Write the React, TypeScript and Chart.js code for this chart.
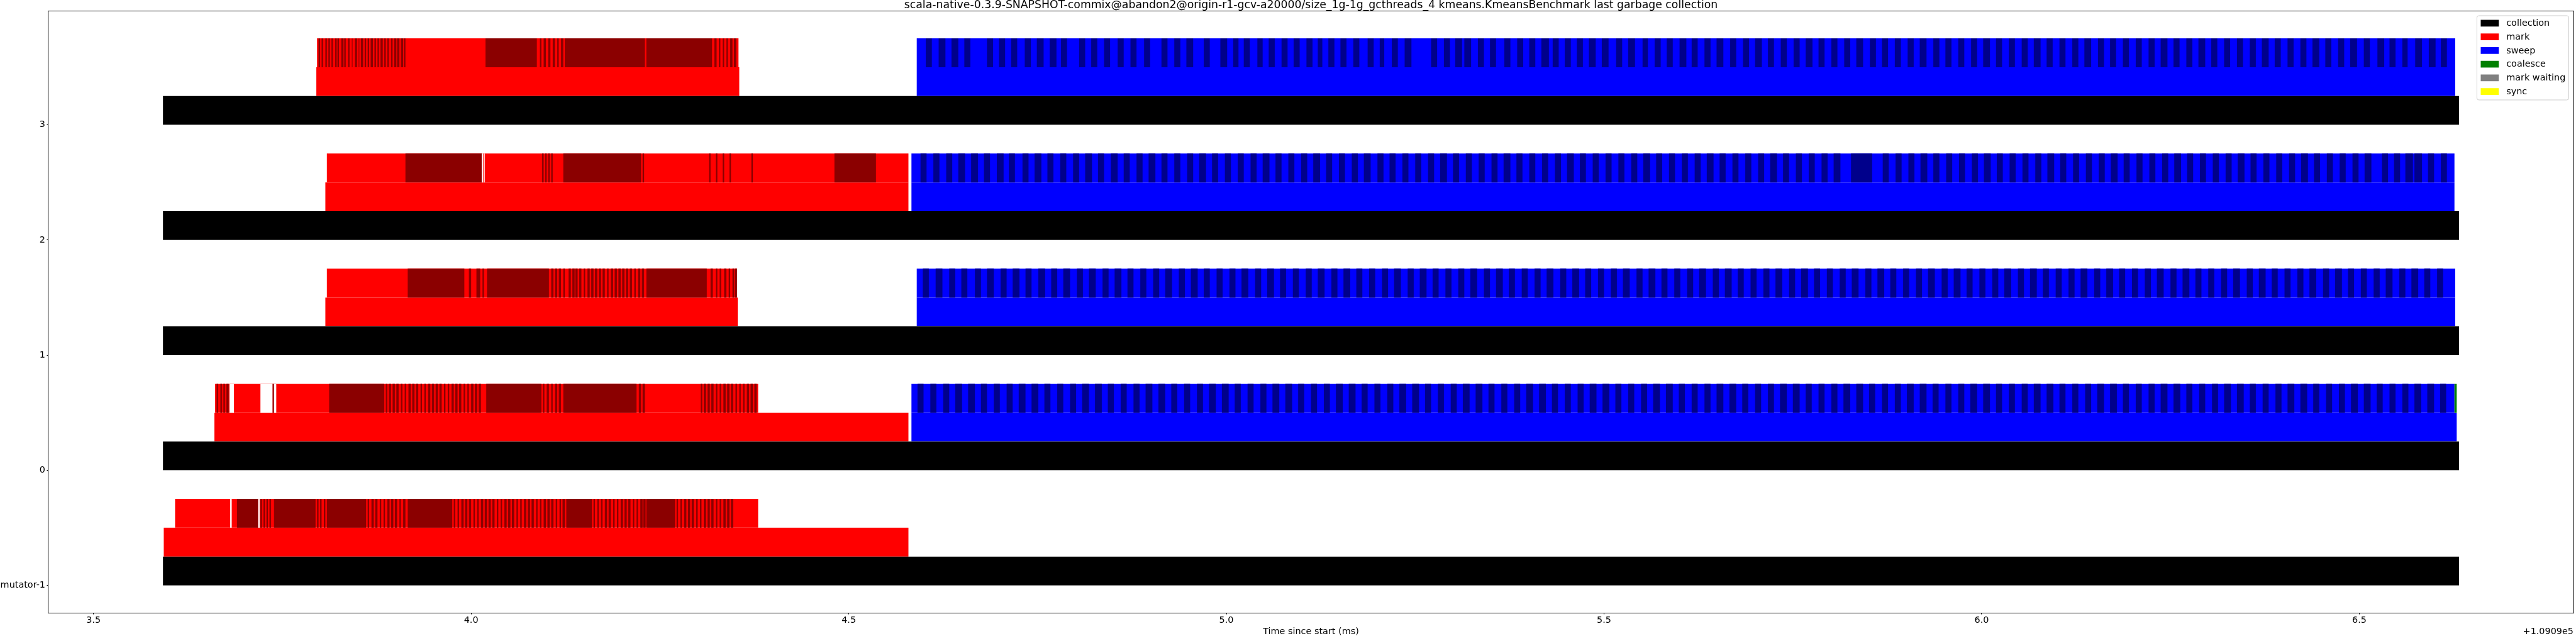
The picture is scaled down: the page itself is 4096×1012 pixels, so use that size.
import React, { useEffect, useRef } from 'react';
import { Chart, registerables } from 'chart.js';

Chart.register(...registerables);

// ---------- text ----------
const TITLE =
  'scala-native-0.3.9-SNAPSHOT-commix@abandon2@origin-r1-gcv-a20000/size_1g-1g_gcthreads_4 kmeans.KmeansBenchmark last garbage collection';
const X_LABEL = 'Time since start (ms)';
const X_OFFSET_TEXT = '+1.0909e5';

// ---------- axes ----------
const X_TICKS = [3.5, 4.0, 4.5, 5.0, 5.5, 6.0, 6.5];
const X_RANGE = [3.4403, 6.7836];
const ROW_VALUES = [-1, 0, 1, 2, 3];
const ROW_LABELS = ['mutator-1', '0', '1', '2', '3'];
const Y_RANGE = [-1.2375, 3.9875];

// ---------- data (ms, relative to 1.0909e5), rows in order -1,0,1,2,3 ----------
const COLLECTION = [
  [3.592, 6.632], [3.592, 6.632], [3.592, 6.632], [3.592, 6.632], [3.592, 6.632],
];
const MARK = [
  [3.593, 4.579], [3.660, 4.579], [3.807, 4.353], [3.807, 4.579], [3.795, 4.355],
];
const SWEEP = [null, [4.583, 6.629], [4.590, 6.627], [4.583, 6.626], [4.590, 6.627]];

const MARK_BATCH_SPAN = [
  [3.608, 4.380], [3.661, 4.380], [3.809, 4.352], [3.809, 4.579], [3.796, 4.354],
];
const SWEEP_BATCH_SPAN = [null, [4.583, 6.626], [4.590, 6.627], [4.583, 6.626], [4.590, 6.627]];

const MARK_DARK_M1 = [
  [3.690, 3.718], [3.721, 3.723], [3.725, 3.727], [3.729, 3.731], [3.733, 3.735], [3.739, 3.794],
  [3.796, 3.798], [3.800, 3.802], [3.805, 3.807], [3.809, 3.861], [3.863, 3.865], [3.868, 3.871],
  [3.873, 3.876], [3.879, 3.881], [3.884, 3.886], [3.889, 3.892], [3.894, 3.897], [3.899, 3.902],
  [3.905, 3.907], [3.910, 3.913], [3.916, 3.975], [3.977, 3.979], [3.982, 3.984], [3.987, 3.990],
  [3.992, 3.995], [3.997, 4.000], [4.003, 4.005], [4.008, 4.010], [4.013, 4.016], [4.018, 4.021],
  [4.023, 4.026], [4.028, 4.031], [4.034, 4.036], [4.039, 4.041], [4.044, 4.047], [4.049, 4.052],
  [4.054, 4.057], [4.060, 4.062], [4.065, 4.067], [4.070, 4.073], [4.075, 4.078], [4.080, 4.083],
  [4.086, 4.088], [4.091, 4.093], [4.096, 4.099], [4.101, 4.104], [4.106, 4.109], [4.112, 4.114],
  [4.117, 4.119], [4.121, 4.124], [4.126, 4.160], [4.162, 4.164], [4.167, 4.169], [4.172, 4.174],
  [4.177, 4.180], [4.182, 4.185], [4.188, 4.190], [4.193, 4.195], [4.198, 4.201], [4.203, 4.206],
  [4.208, 4.211], [4.214, 4.216], [4.219, 4.221], [4.224, 4.227], [4.228, 4.231], [4.232, 4.270],
  [4.272, 4.274], [4.277, 4.279], [4.282, 4.285], [4.287, 4.290], [4.292, 4.295], [4.298, 4.300],
  [4.303, 4.305], [4.308, 4.311], [4.313, 4.316], [4.318, 4.321], [4.324, 4.326], [4.329, 4.331],
  [4.334, 4.337], [4.339, 4.342], [4.344, 4.347],
];
const MARK_DARK_0 = [
  [3.663, 3.665], [3.668, 3.670], [3.672, 3.674], [3.676, 3.679], [3.737, 3.739], [3.812, 3.885],
  [3.887, 3.889], [3.891, 3.894], [3.896, 3.899], [3.901, 3.904], [3.907, 3.909], [3.912, 3.914],
  [3.917, 3.920], [3.922, 3.925], [3.927, 3.930], [3.933, 3.935], [3.938, 3.940], [3.943, 3.946],
  [3.948, 3.951], [3.953, 3.956], [3.958, 3.961], [3.964, 3.966], [3.969, 3.971], [3.974, 3.977],
  [3.979, 3.982], [3.984, 3.987], [3.990, 3.992], [3.995, 3.997], [4.000, 4.003], [4.005, 4.008],
  [4.010, 4.013], [4.020, 4.093], [4.095, 4.097], [4.100, 4.103], [4.106, 4.108], [4.111, 4.114],
  [4.116, 4.119], [4.122, 4.219], [4.222, 4.225], [4.227, 4.230], [4.304, 4.306], [4.308, 4.311],
  [4.313, 4.316], [4.318, 4.321], [4.324, 4.326], [4.329, 4.331], [4.334, 4.337], [4.339, 4.342],
  [4.344, 4.347], [4.350, 4.352], [4.355, 4.357], [4.360, 4.362], [4.365, 4.368], [4.370, 4.373],
  [4.375, 4.378],
];
const MARK_DARK_1 = [
  [3.916, 3.991], [3.997, 4.000], [4.007, 4.012], [4.015, 4.017], [4.021, 4.103], [4.106, 4.109],
  [4.111, 4.114], [4.116, 4.119], [4.122, 4.124], [4.129, 4.132], [4.134, 4.137], [4.138, 4.141],
  [4.143, 4.146], [4.149, 4.151], [4.154, 4.157], [4.159, 4.162], [4.164, 4.167], [4.169, 4.172],
  [4.174, 4.177], [4.180, 4.182], [4.185, 4.188], [4.190, 4.193], [4.195, 4.198], [4.200, 4.203],
  [4.205, 4.208], [4.210, 4.213], [4.216, 4.218], [4.221, 4.224], [4.226, 4.229], [4.232, 4.312],
  [4.317, 4.320], [4.324, 4.326], [4.329, 4.331], [4.335, 4.338], [4.341, 4.343], [4.346, 4.348],
  [4.349, 4.352],
];
const MARK_DARK_2 = [
  [3.913, 4.014], [4.094, 4.096], [4.098, 4.100], [4.102, 4.104], [4.106, 4.108], [4.122, 4.225],
  [4.227, 4.229], [4.315, 4.317], [4.324, 4.326], [4.333, 4.335], [4.342, 4.344], [4.371, 4.373],
  [4.481, 4.536],
];
const MARK_DARK_3 = [
  [3.798, 3.800], [3.802, 3.804], [3.807, 3.809], [3.811, 3.813], [3.815, 3.817], [3.820, 3.822],
  [3.823, 3.825], [3.828, 3.831], [3.832, 3.834], [3.837, 3.839], [3.842, 3.843], [3.846, 3.849],
  [3.851, 3.852], [3.854, 3.857], [3.859, 3.861], [3.863, 3.865], [3.867, 3.870], [3.872, 3.874],
  [3.876, 3.878], [3.880, 3.883], [3.885, 3.887], [3.889, 3.891], [3.894, 3.896], [3.898, 3.901],
  [3.902, 3.905], [3.907, 3.910], [3.911, 3.913], [4.019, 4.087], [4.091, 4.093], [4.096, 4.099],
  [4.102, 4.105], [4.108, 4.111], [4.114, 4.116], [4.119, 4.122], [4.124, 4.230], [4.232, 4.319],
  [4.322, 4.325], [4.328, 4.330], [4.333, 4.335], [4.338, 4.340], [4.343, 4.346], [4.348, 4.351],
];

const SWEEP_DARK_0 = [
  [4.591, 4.599], [4.608, 4.616], [4.625, 4.633], [4.641, 4.650], [4.658, 4.667], [4.675, 4.683],
  [4.692, 4.700], [4.709, 4.717], [4.725, 4.734], [4.742, 4.751], [4.759, 4.767], [4.776, 4.784],
  [4.793, 4.801], [4.809, 4.818], [4.826, 4.835], [4.843, 4.851], [4.860, 4.868], [4.877, 4.885],
  [4.893, 4.902], [4.910, 4.919], [4.927, 4.935], [4.944, 4.952], [4.961, 4.969], [4.977, 4.986],
  [4.994, 5.003], [5.011, 5.019], [5.028, 5.036], [5.045, 5.053], [5.061, 5.070], [5.078, 5.087],
  [5.095, 5.103], [5.112, 5.120], [5.129, 5.137], [5.145, 5.154], [5.162, 5.171], [5.179, 5.187],
  [5.196, 5.204], [5.213, 5.221], [5.229, 5.238], [5.246, 5.255], [5.263, 5.271], [5.280, 5.288],
  [5.297, 5.305], [5.313, 5.322], [5.330, 5.339], [5.347, 5.355], [5.364, 5.372], [5.381, 5.389],
  [5.397, 5.406], [5.414, 5.423], [5.431, 5.439], [5.448, 5.456], [5.465, 5.473], [5.481, 5.490],
  [5.498, 5.507], [5.515, 5.523], [5.532, 5.540], [5.549, 5.557], [5.565, 5.574], [5.582, 5.591],
  [5.599, 5.607], [5.616, 5.624], [5.633, 5.641], [5.649, 5.658], [5.666, 5.675], [5.683, 5.691],
  [5.700, 5.708], [5.717, 5.725], [5.733, 5.742], [5.750, 5.759], [5.767, 5.775], [5.784, 5.792],
  [5.801, 5.809], [5.817, 5.826], [5.834, 5.843], [5.851, 5.859], [5.868, 5.876], [5.885, 5.893],
  [5.901, 5.910], [5.918, 5.927], [5.935, 5.943], [5.952, 5.960], [5.969, 5.977], [5.985, 5.994],
  [6.002, 6.011], [6.019, 6.027], [6.036, 6.044], [6.053, 6.061], [6.069, 6.078], [6.086, 6.095],
  [6.103, 6.111], [6.120, 6.128], [6.137, 6.145], [6.153, 6.162], [6.170, 6.179], [6.187, 6.195],
  [6.204, 6.212], [6.221, 6.229], [6.237, 6.246], [6.254, 6.263], [6.271, 6.279], [6.288, 6.296],
  [6.305, 6.313], [6.321, 6.330], [6.338, 6.347], [6.355, 6.363], [6.372, 6.380], [6.389, 6.397],
  [6.405, 6.414], [6.422, 6.431], [6.439, 6.447], [6.456, 6.464], [6.473, 6.481], [6.489, 6.498],
  [6.506, 6.515], [6.523, 6.531], [6.540, 6.548], [6.557, 6.565], [6.573, 6.582], [6.590, 6.599],
  [6.607, 6.615],
];
const SWEEP_DARK_1 = [
  [4.598, 4.606], [4.615, 4.624], [4.633, 4.641], [4.649, 4.657], [4.667, 4.675], [4.683, 4.692],
  [4.701, 4.709], [4.717, 4.726], [4.734, 4.742], [4.751, 4.760], [4.768, 4.776], [4.784, 4.793],
  [4.802, 4.810], [4.818, 4.827], [4.836, 4.844], [4.852, 4.861], [4.869, 4.877], [4.886, 4.894],
  [4.903, 4.911], [4.919, 4.928], [4.937, 4.945], [4.953, 4.962], [4.970, 4.978], [4.987, 4.995],
  [5.004, 5.012], [5.020, 5.029], [5.038, 5.046], [5.054, 5.063], [5.071, 5.079], [5.088, 5.096],
  [5.105, 5.113], [5.121, 5.130], [5.139, 5.147], [5.155, 5.164], [5.172, 5.180], [5.189, 5.197],
  [5.206, 5.214], [5.222, 5.231], [5.240, 5.248], [5.256, 5.265], [5.273, 5.281], [5.290, 5.298],
  [5.307, 5.315], [5.323, 5.332], [5.341, 5.349], [5.357, 5.366], [5.374, 5.382], [5.391, 5.399],
  [5.408, 5.416], [5.424, 5.433], [5.442, 5.450], [5.458, 5.467], [5.475, 5.483], [5.492, 5.500],
  [5.509, 5.517], [5.525, 5.534], [5.543, 5.551], [5.559, 5.568], [5.576, 5.584], [5.593, 5.601],
  [5.610, 5.618], [5.626, 5.635], [5.644, 5.652], [5.660, 5.669], [5.677, 5.685], [5.694, 5.702],
  [5.711, 5.719], [5.727, 5.736], [5.745, 5.753], [5.761, 5.770], [5.778, 5.786], [5.795, 5.803],
  [5.812, 5.820], [5.828, 5.837], [5.846, 5.854], [5.862, 5.871], [5.879, 5.887], [5.896, 5.904],
  [5.913, 5.921], [5.929, 5.938], [5.947, 5.955], [5.963, 5.972], [5.980, 5.988], [5.997, 6.005],
  [6.014, 6.022], [6.030, 6.039], [6.048, 6.056], [6.064, 6.073], [6.081, 6.089], [6.098, 6.106],
  [6.115, 6.123], [6.131, 6.140], [6.149, 6.157], [6.165, 6.174], [6.182, 6.190], [6.199, 6.207],
  [6.216, 6.224], [6.232, 6.241], [6.250, 6.258], [6.266, 6.275], [6.283, 6.291], [6.300, 6.308],
  [6.317, 6.325], [6.333, 6.342], [6.351, 6.359], [6.367, 6.376], [6.384, 6.392], [6.401, 6.409],
  [6.418, 6.426], [6.434, 6.443], [6.452, 6.460], [6.468, 6.477], [6.485, 6.493], [6.502, 6.510],
  [6.519, 6.527], [6.535, 6.544], [6.553, 6.561], [6.569, 6.578], [6.586, 6.594], [6.603, 6.611],
];
const SWEEP_DARK_2 = [
  [4.595, 4.603], [4.612, 4.620], [4.629, 4.637], [4.645, 4.654], [4.662, 4.671], [4.679, 4.687],
  [4.696, 4.705], [4.712, 4.720], [4.730, 4.738], [4.746, 4.755], [4.763, 4.771], [4.780, 4.788],
  [4.797, 4.805], [4.813, 4.822], [4.830, 4.838], [4.847, 4.856], [4.864, 4.872], [4.881, 4.889],
  [4.897, 4.906], [4.914, 4.922], [4.931, 4.939], [4.948, 4.956], [4.964, 4.973], [4.981, 4.989],
  [4.998, 5.006], [5.015, 5.023], [5.032, 5.040], [5.048, 5.057], [5.065, 5.073], [5.082, 5.090],
  [5.099, 5.107], [5.115, 5.124], [5.132, 5.140], [5.149, 5.157], [5.166, 5.174], [5.182, 5.191],
  [5.200, 5.208], [5.216, 5.224], [5.233, 5.241], [5.250, 5.258], [5.267, 5.275], [5.283, 5.292],
  [5.300, 5.308], [5.317, 5.325], [5.334, 5.342], [5.351, 5.359], [5.367, 5.376], [5.384, 5.392],
  [5.401, 5.409], [5.418, 5.426], [5.435, 5.443], [5.451, 5.460], [5.468, 5.476], [5.485, 5.493],
  [5.502, 5.510], [5.519, 5.527], [5.536, 5.544], [5.552, 5.561], [5.569, 5.577], [5.586, 5.594],
  [5.603, 5.611], [5.620, 5.628], [5.636, 5.645], [5.653, 5.661], [5.670, 5.678], [5.687, 5.695],
  [5.704, 5.712], [5.720, 5.729], [5.737, 5.745], [5.754, 5.762], [5.771, 5.779], [5.788, 5.796],
  [5.804, 5.813], [5.827, 5.855], [5.869, 5.877], [5.886, 5.894], [5.903, 5.911], [5.919, 5.928],
  [5.936, 5.944], [5.953, 5.961], [5.970, 5.978], [5.987, 5.995], [6.003, 6.012], [6.020, 6.028],
  [6.037, 6.045], [6.054, 6.062], [6.071, 6.079], [6.087, 6.096], [6.104, 6.112], [6.121, 6.129],
  [6.138, 6.146], [6.155, 6.163], [6.171, 6.180], [6.188, 6.196], [6.205, 6.213], [6.222, 6.230],
  [6.239, 6.247], [6.255, 6.264], [6.272, 6.280], [6.289, 6.297], [6.306, 6.314], [6.323, 6.331],
  [6.339, 6.348], [6.356, 6.364], [6.373, 6.381], [6.390, 6.398], [6.407, 6.415], [6.423, 6.432],
  [6.440, 6.448], [6.457, 6.465], [6.474, 6.482], [6.491, 6.499], [6.507, 6.516], [6.530, 6.538],
  [6.546, 6.554], [6.561, 6.571], [6.573, 6.583], [6.591, 6.599], [6.608, 6.616],
];
const SWEEP_DARK_3 = [
  [4.602, 4.610], [4.619, 4.628], [4.636, 4.645], [4.653, 4.661], [4.683, 4.691], [4.699, 4.707],
  [4.715, 4.723], [4.733, 4.741], [4.749, 4.758], [4.766, 4.775], [4.781, 4.789], [4.805, 4.813],
  [4.821, 4.829], [4.838, 4.846], [4.856, 4.864], [4.873, 4.881], [4.891, 4.899], [4.914, 4.922],
  [4.931, 4.939], [4.947, 4.956], [4.970, 4.978], [4.992, 5.001], [5.009, 5.016], [5.023, 5.031],
  [5.041, 5.048], [5.056, 5.064], [5.073, 5.081], [5.089, 5.097], [5.106, 5.114], [5.121, 5.127],
  [5.135, 5.143], [5.151, 5.159], [5.168, 5.176], [5.187, 5.195], [5.203, 5.209], [5.219, 5.227],
  [5.236, 5.245], [5.271, 5.279], [5.288, 5.296], [5.303, 5.312], [5.315, 5.324], [5.333, 5.341],
  [5.349, 5.357], [5.368, 5.376], [5.385, 5.393], [5.401, 5.409], [5.417, 5.427], [5.432, 5.440],
  [5.448, 5.456], [5.464, 5.472], [5.480, 5.489], [5.497, 5.506], [5.516, 5.524], [5.532, 5.541],
  [5.551, 5.558], [5.567, 5.575], [5.583, 5.591], [5.600, 5.609], [5.616, 5.624], [5.633, 5.641],
  [5.649, 5.658], [5.667, 5.675], [5.684, 5.692], [5.700, 5.709], [5.717, 5.725], [5.734, 5.742],
  [5.751, 5.759], [5.767, 5.776], [5.784, 5.792], [5.801, 5.809], [5.818, 5.826], [5.834, 5.843],
  [5.852, 5.860], [5.868, 5.876], [5.885, 5.893], [5.902, 5.910], [5.918, 5.927], [5.936, 5.944],
  [5.952, 5.960], [5.969, 5.977], [5.986, 5.994], [6.002, 6.011], [6.019, 6.027], [6.036, 6.044],
  [6.053, 6.061], [6.069, 6.078], [6.086, 6.094], [6.103, 6.111], [6.120, 6.128], [6.136, 6.145],
  [6.154, 6.162], [6.170, 6.178], [6.187, 6.195], [6.204, 6.212], [6.221, 6.229], [6.237, 6.246],
  [6.254, 6.262], [6.271, 6.279], [6.287, 6.296], [6.304, 6.312], [6.321, 6.329], [6.338, 6.346],
  [6.355, 6.363], [6.371, 6.380], [6.388, 6.396], [6.405, 6.413], [6.422, 6.430], [6.438, 6.447],
  [6.455, 6.463], [6.472, 6.480], [6.488, 6.497], [6.506, 6.514], [6.524, 6.533], [6.540, 6.548],
  [6.557, 6.564], [6.574, 6.583], [6.592, 6.601], [6.608, 6.616],
];

const MARK_DARK = [MARK_DARK_M1, MARK_DARK_0, MARK_DARK_1, MARK_DARK_2, MARK_DARK_3];
const SWEEP_DARK = [[], SWEEP_DARK_0, SWEEP_DARK_1, SWEEP_DARK_2, SWEEP_DARK_3];

// small gaps between batches (white background shows through)
const BATCH_GAPS = [
  [[3.681, 3.683], [3.718, 3.720]],
  [[3.680, 3.686], [3.721, 3.737], [3.739, 3.742]],
  [],
  [[4.014, 4.016], [4.017, 4.018]],
  [],
];

const COALESCE: number[][][] = [[], [[6.626, 6.629]], [], [], []];
const MARK_WAITING: number[][][] = [[], [], [], [], []];
const SYNC: number[][][] = [[], [], [], [], []];

// ---------- style ----------
const FONT = 'DejaVu Sans';
const BAND = { collection: 0.125, phase: 0.375, batch: 0.625 };

function rowPoints(spans: (number[] | null)[], band: number) {
  const out: { x: number[]; y: number }[] = [];
  spans.forEach((s, i) => {
    if (s) out.push({ x: s, y: ROW_VALUES[i] + band });
  });
  return out;
}
function rowListPoints(lists: number[][][], band: number) {
  const out: { x: number[]; y: number }[] = [];
  lists.forEach((list, i) => list.forEach((s) => out.push({ x: s, y: ROW_VALUES[i] + band })));
  return out;
}

const framePlugin = {
  id: 'mplFrame',
  afterDraw(chart: any) {
    const { ctx, chartArea } = chart;
    const { left, top, right, bottom } = chartArea;
    ctx.save();
    // spines
    ctx.strokeStyle = '#000';
    ctx.lineWidth = 1;
    ctx.strokeRect(Math.round(left) - 0.5, Math.round(top) - 0.5, Math.round(right - left) + 1, Math.round(bottom - top) + 1);

    // title
    ctx.fillStyle = '#000';
    ctx.textAlign = 'center';
    ctx.textBaseline = 'alphabetic';
    ctx.font = `17.3px '${FONT}'`;
    ctx.fillText(TITLE, (left + right) / 2, top - 4.3);

    // x label + offset
    ctx.font = `14.4px '${FONT}'`;
    ctx.fillText(X_LABEL, (left + right) / 2, 1008.5);
    ctx.textAlign = 'right';
    ctx.fillText(X_OFFSET_TEXT, right, 1008.5);

    // legend
    const items = chart.data.datasets.filter((d: any) => d.inLegend);
    const bx = 3938.5, by = 25, bw = 146, bh = 134, r = 3;
    ctx.beginPath();
    ctx.moveTo(bx + r, by);
    ctx.lineTo(bx + bw - r, by);
    ctx.arcTo(bx + bw, by, bx + bw, by + r, r);
    ctx.lineTo(bx + bw, by + bh - r);
    ctx.arcTo(bx + bw, by + bh, bx + bw - r, by + bh, r);
    ctx.lineTo(bx + r, by + bh);
    ctx.arcTo(bx, by + bh, bx, by + bh - r, r);
    ctx.lineTo(bx, by + r);
    ctx.arcTo(bx, by, bx + r, by, r);
    ctx.closePath();
    ctx.fillStyle = 'rgba(255,255,255,0.8)';
    ctx.fill();
    ctx.strokeStyle = '#cccccc';
    ctx.lineWidth = 1;
    ctx.stroke();
    ctx.textAlign = 'left';
    ctx.textBaseline = 'middle';
    items.forEach((d: any, i: number) => {
      const cy = 36.9 + i * 21.74;
      ctx.fillStyle = d.backgroundColor;
      ctx.fillRect(3944.5, cy - 5.35, 28.8, 10.7);
      ctx.fillStyle = '#000';
      ctx.fillText(d.label, 3985.2, cy + 0.5);
    });
    ctx.restore();
  },
};

export default function App() {
  const ref = useRef<HTMLCanvasElement | null>(null);

  useEffect(() => {
    if (!ref.current) return;
    const datasets: any[] = [
      // overlays first (drawn on top)
      { label: 'batch gaps', data: rowListPoints(BATCH_GAPS, BAND.batch), backgroundColor: '#ffffff', order: 0 },
      { label: 'mark batch (dark)', data: rowListPoints(MARK_DARK, BAND.batch), backgroundColor: '#8b0000', order: 1 },
      { label: 'sweep batch (dark)', data: rowListPoints(SWEEP_DARK, BAND.batch), backgroundColor: '#00008b', order: 1 },
      { label: 'mark batches', data: rowPoints(MARK_BATCH_SPAN, BAND.batch), backgroundColor: '#ff0000', order: 2 },
      { label: 'sweep batches', data: rowPoints(SWEEP_BATCH_SPAN, BAND.batch), backgroundColor: '#0000ff', order: 2 },
      { label: 'collection', inLegend: true, data: rowPoints(COLLECTION, BAND.collection), backgroundColor: '#000000', order: 3 },
      { label: 'mark', inLegend: true, data: rowPoints(MARK, BAND.phase), backgroundColor: '#ff0000', order: 3 },
      { label: 'sweep', inLegend: true, data: rowPoints(SWEEP, BAND.phase), backgroundColor: '#0000ff', order: 3 },
      { label: 'coalesce', inLegend: true, data: rowListPoints(COALESCE, BAND.batch), backgroundColor: '#008000', order: 0 },
      { label: 'mark waiting', inLegend: true, data: rowListPoints(MARK_WAITING, BAND.batch), backgroundColor: '#808080', order: 0 },
      { label: 'sync', inLegend: true, data: rowListPoints(SYNC, BAND.batch), backgroundColor: '#ffff00', order: 0 },
    ];

    const tickFont = { family: FONT, size: 14.4 };
    const chart = new Chart(ref.current, {
      type: 'bar',
      data: { datasets },
      options: {
        indexAxis: 'y',
        responsive: false,
        animation: false,
        events: [],
        layout: { padding: { top: 17.6, right: 4, left: 0, bottom: 0 } },
        datasets: {
          bar: {
            grouped: false,
            barPercentage: 1,
            categoryPercentage: 1,
            borderWidth: 0,
            inflateAmount: 0,
          },
        } as any,
        plugins: {
          legend: { display: false },
          tooltip: { enabled: false },
          title: { display: false },
        },
        scales: {
          x: {
            type: 'linear',
            min: X_RANGE[0],
            max: X_RANGE[1],
            beginAtZero: false,
            offset: false,
            afterBuildTicks: (s: any) => {
              s.ticks = X_TICKS.map((v) => ({ value: v }));
            },
            afterFit: (s: any) => {
              s.height = 37;
            },
            ticks: {
              callback: (v: any) => Number(v).toFixed(1),
              font: tickFont,
              color: '#000',
              padding: 1,
              maxRotation: 0,
              autoSkip: false,
            },
            grid: { display: true, drawOnChartArea: false, drawTicks: true, tickLength: 2.5, tickColor: '#000', tickWidth: 1, offset: false },
            border: { display: false },
          },
          y: {
            type: 'linear',
            min: Y_RANGE[0],
            max: Y_RANGE[1],
            offset: false,
            afterBuildTicks: (s: any) => {
              s.ticks = ROW_VALUES.map((v) => ({ value: v }));
            },
            afterFit: (s: any) => {
              s.width = 77;
            },
            ticks: {
              callback: (v: any) => ROW_LABELS[ROW_VALUES.indexOf(Number(v))] ?? '',
              font: tickFont,
              color: '#000',
              padding: 2.5,
              autoSkip: false,
            },
            grid: { display: true, drawOnChartArea: false, drawTicks: true, tickLength: 2.5, tickColor: '#000', tickWidth: 1, offset: false },
            border: { display: false },
          },
        },
      },
      plugins: [framePlugin],
    });
    return () => chart.destroy();
  }, []);

  return (
    <div style={{ position: 'absolute', left: 0, top: 0, width: 4096, height: 1012, background: '#fff' }}>
      <canvas ref={ref} width={4096} height={1012} style={{ display: 'block', width: 4096, height: 1012 }} />
    </div>
  );
}
